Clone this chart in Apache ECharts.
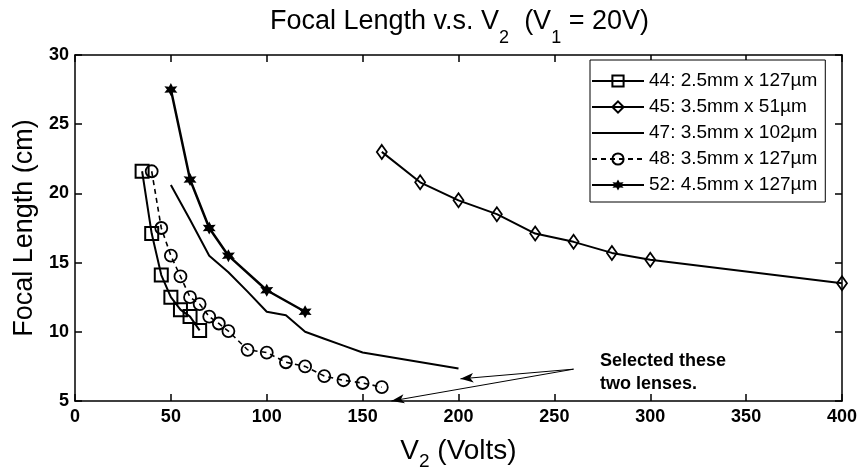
<!DOCTYPE html>
<html><head><meta charset="utf-8">
<script src="https://cdn.jsdelivr.net/npm/echarts@6/dist/echarts.min.js"></script>
<style>html,body{margin:0;padding:0;background:#fff}#c{width:860px;height:468px}</style>
</head><body><div id="c"></div>
<script>
const FONT = '"Liberation Sans", Arial, sans-serif';
const names = ['44: 2.5mm x 127\u00b5m','45: 3.5mm x 51\u00b5m','47: 3.5mm x 102\u00b5m','48: 3.5mm x 127\u00b5m','52: 4.5mm x 127\u00b5m'];
const v44 = [35,40,45,50,55,60,65];
const f44 = [21.6,17.1,14.1,12.5,11.6,11.1,10.1];
const v45 = [160,180,200,220,240,260,280,300,400];
const f45 = [23.0,20.8,19.5,18.5,17.1,16.5,15.7,15.2,13.5];
const v47 = [50,60,70,80,90,100,110,120,130,140,150,200];
const f47 = [20.6,18.1,15.5,14.3,12.9,11.45,11.2,10.0,9.5,9.0,8.5,7.35];
const v48 = [40,45,50,55,60,65,70,75,80,90,100,110,120,130,140,150,160];
const f48 = [21.6,17.5,15.5,14.0,12.5,12.0,11.1,10.6,10.05,8.7,8.5,7.8,7.5,6.8,6.5,6.3,6.0];
const v52 = [50,60,70,80,100,120];
const f52 = [27.5,21.0,17.5,15.5,13.0,11.45];
const xTicks = {min:0, max:400, interval:50};
const yTicks = {min:5, max:30, interval:5};
const arrowStart = [260, 7.3];
const arrowEnds = [[201, 6.6],[165, 5.0]];
const noteText = 'Selected these\ntwo lenses.';

const pairs = (xs, ys) => xs.map((x,i)=>[x, ys[i]]);
const STAR = 'path://M0,-10 L2.6,-4.5 L8.7,-5 L5.2,0 L8.7,5 L2.6,4.5 L0,10 L-2.6,4.5 L-8.7,5 L-5.2,0 L-8.7,-5 L-2.6,-4.5 Z';

const axisLineStyle = {color:'#000', width:1.5};
const tickStyle = {inside:true, length:7, lineStyle:{color:'#000', width:1.5}};
const labelStyle = {color:'#000', fontWeight:'bold', fontSize:18, fontFamily:FONT};

const chart = echarts.init(document.getElementById('c'), null, {renderer:'canvas'});
chart.setOption({
  animation:false,
  backgroundColor:'#fff',
  title:{
    text:'Focal Length v.s. V{s|2}  (V{s|1} = 20V)',
    left:265, top:-1,
    textStyle:{
      fontFamily:FONT, fontSize:27, fontWeight:'normal', color:'#000', lineHeight:36,
      rich:{s:{fontFamily:FONT, fontSize:18, color:'#000', padding:[33,0,0,0], lineHeight:36}}
    }
  },
  grid:{left:75, right:18, top:55, bottom:67, containLabel:false, outerBoundsMode:'none'},
  legend:{
    orient:'vertical', left:590, top:60,
    data:names,
    itemWidth:52, itemHeight:14, itemGap:6,
    padding:[11,8,7,1],
    borderColor:'#000', borderWidth:1, backgroundColor:'#fff',
    textStyle:{fontFamily:FONT, fontSize:19, color:'#000', lineHeight:20},
    selectedMode:false
  },
  xAxis:[{
    type:'value', ...xTicks, position:'bottom',
    name:'V{s|2} (Volts)', nameLocation:'middle', nameGap:28,
    nameTextStyle:{fontFamily:FONT, fontSize:28, color:'#000', lineHeight:32,
      rich:{s:{fontFamily:FONT, fontSize:19, color:'#000', padding:[21,0,0,0], lineHeight:32}}},
    axisLine:{show:true, onZero:false, lineStyle:axisLineStyle},
    axisTick:tickStyle, axisLabel:{...labelStyle, margin:7}, splitLine:{show:false}
  },{
    type:'value', ...xTicks, position:'top',
    axisLine:{show:true, onZero:false, lineStyle:axisLineStyle},
    axisTick:tickStyle, axisLabel:{show:false}, splitLine:{show:false}
  }],
  yAxis:[{
    type:'value', ...yTicks, position:'left',
    name:'Focal Length (cm)', nameLocation:'middle', nameGap:37,
    nameTextStyle:{fontFamily:FONT, fontSize:27, color:'#000'},
    axisLine:{show:true, onZero:false, lineStyle:axisLineStyle},
    axisTick:tickStyle, axisLabel:{...labelStyle, margin:6}, splitLine:{show:false}
  },{
    type:'value', ...yTicks, position:'right',
    axisLine:{show:true, onZero:false, lineStyle:axisLineStyle},
    axisTick:tickStyle, axisLabel:{show:false}, splitLine:{show:false}
  }],
  graphic:[{
    type:'text', left:600, top:350, z:100,
    style:{text:noteText, fontFamily:FONT, fontSize:18, fontWeight:'bold', fill:'#000', lineHeight:23}
  }],
  series:[
    {name:names[0], type:'line', data:pairs(v44,f44), symbol:'rect', symbolSize:13,
     lineStyle:{color:'#000', width:2}, itemStyle:{color:'transparent', borderColor:'#000', borderWidth:2}},
    {name:names[1], type:'line', data:pairs(v45,f45), symbol:'diamond', symbolSize:[10,14],
     lineStyle:{color:'#000', width:2}, itemStyle:{color:'transparent', borderColor:'#000', borderWidth:1.8}},
    {name:names[2], type:'line', data:pairs(v47,f47), symbol:'none',
     lineStyle:{color:'#000', width:2}, itemStyle:{color:'transparent', borderWidth:0},
     markLine:{silent:true, symbol:['none','arrow'], symbolSize:[7,13], animation:false,
       lineStyle:{color:'#000', width:1, type:'solid'}, label:{show:false},
       data:arrowEnds.map(e=>[{coord:arrowStart},{coord:e}])}},
    {name:names[3], type:'line', data:pairs(v48,f48), symbol:'circle', symbolSize:12,
     lineStyle:{color:'#000', width:1.6, type:[5,4]}, itemStyle:{color:'transparent', borderColor:'#000', borderWidth:1.8}},
    {name:names[4], type:'line', data:pairs(v52,f52), symbol:STAR, symbolSize:13,
     lineStyle:{color:'#000', width:2.5}, itemStyle:{color:'#000'}}
  ]
});
</script>
</body></html>
